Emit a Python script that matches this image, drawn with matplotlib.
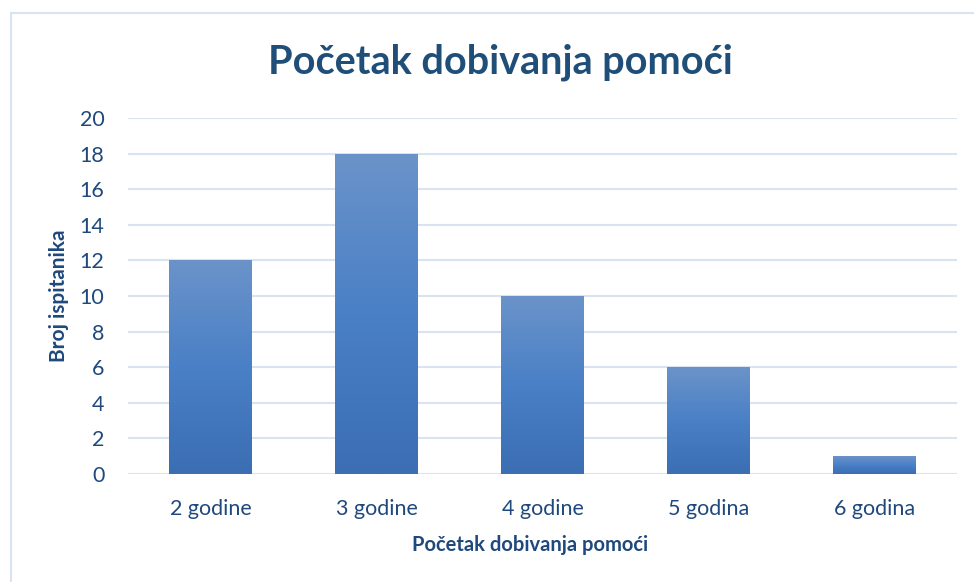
import matplotlib.pyplot as plt
import numpy as np
from matplotlib.colors import LinearSegmentedColormap
from matplotlib.patches import Rectangle

categories = ["2 godine", "3 godine", "4 godine", "5 godina", "6 godina"]
counts = [12, 18, 10, 6, 1]
y_ticks = [0, 2, 4, 6, 8, 10, 12, 14, 16, 18, 20]

TEXT = "#1f497d"
GRID = "#d9e4f2"

plt.rcParams["font.family"] = ["Lato", "DejaVu Sans"]

fig = plt.figure(figsize=(9.74, 5.82), dpi=100)
ax = fig.add_axes([128 / 974, 108 / 582, 829 / 974, 356 / 582])

x = np.arange(len(categories))
bars = ax.bar(x, counts, width=0.5, color="#4a7cc0", zorder=2)

# vertical gradient fill, lighter on top like the original
cmap = LinearSegmentedColormap.from_list("bar", ["#3b6eb3", "#4a80c6", "#6b93c9"])
grad = np.linspace(0, 1, 256).reshape(-1, 1)
for bar in bars:
    x0, y0 = bar.get_x(), bar.get_y()
    w, h = bar.get_width(), bar.get_height()
    img = ax.imshow(grad, cmap=cmap, origin="lower", aspect="auto",
                    extent=[x0, x0 + w, y0, y0 + h], zorder=3)
    img.set_clip_path(bar)

ax.set_xlim(-0.5, len(categories) - 0.5)
ax.set_ylim(0, 20)
ax.set_xticks(x)
ax.set_xticklabels(categories)
ax.set_yticks(y_ticks)
ax.yaxis.grid(True, color=GRID, linewidth=1.5, zorder=0)
ax.set_axisbelow(True)
for s in ax.spines.values():
    s.set_visible(False)
ax.tick_params(length=0, labelsize=15.5, labelcolor=TEXT)
ax.tick_params(axis="x", pad=18)
ax.tick_params(axis="y", pad=17)

ax.set_xlabel("Početak dobivanja pomoći", fontsize=14.5, fontweight="bold",
              color=TEXT)
ax.xaxis.set_label_coords((530 - 128) / 829, -0.17)
ax.set_ylabel("Broj ispitanika", fontsize=15, fontweight="bold", color=TEXT)
ax.yaxis.set_label_coords(-(128 - 69) / 829, 0.5)

fig.text(500 / 974, 1 - 62 / 582, "Početak dobivanja pomoći", ha="center",
         va="center", fontsize=28.5, fontweight="bold", color="#1f4e79")

# light chart-area border (left and top visible)
fig.patches.append(Rectangle((11 / 974, -0.1), 1.2, 1 - 13 / 582 + 0.1,
                             transform=fig.transFigure, fill=False,
                             edgecolor=GRID, linewidth=1.5))

fig.savefig("out.png", dpi=100)
